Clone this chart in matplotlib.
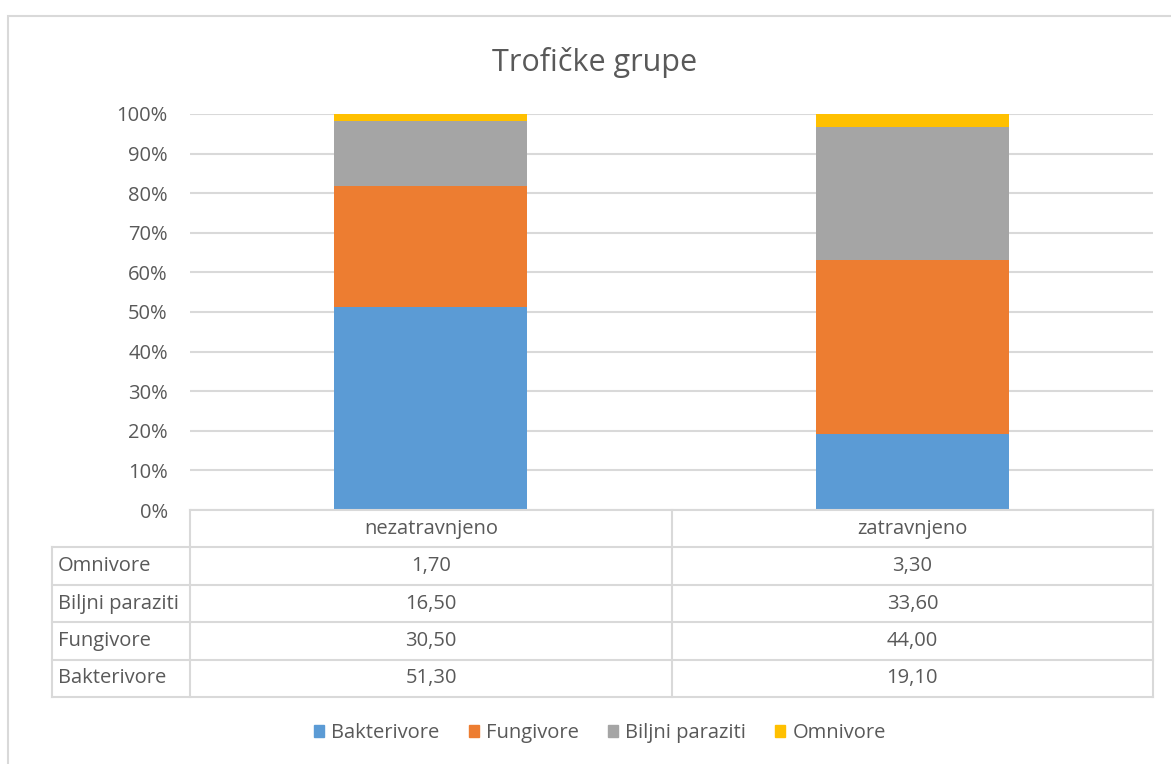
import matplotlib
matplotlib.use("Agg")
from matplotlib import pyplot as plt
from matplotlib.patches import Rectangle, Patch
from matplotlib.ticker import PercentFormatter
import numpy as np

plt.rcParams['font.family'] = ['Open Sans', 'DejaVu Sans']

categories = ['nezatravnjeno', 'zatravnjeno']
series_names = ['Bakterivore', 'Fungivore', 'Biljni paraziti', 'Omnivore']
bakterivore = [51.30, 19.10]
fungivore = [30.50, 44.00]
biljni_paraziti = [16.50, 33.60]
omnivore = [1.70, 3.30]
series_values = [bakterivore, fungivore, biljni_paraziti, omnivore]
colors = ['#5B9BD5', '#ED7D31', '#A5A5A5', '#FFC000']
table_rows = ['Omnivore', 'Biljni paraziti', 'Fungivore', 'Bakterivore']
title = 'Trofičke grupe'

W, H = 1171, 764
text_col = '#595959'
line_col = '#D9D9D9'
fs = 14.5

fig = plt.figure(figsize=(W / 100, H / 100), dpi=100)

# outer chart border
fig.patches.append(Rectangle((8 / W, -0.01), 1.0, 1 - 16 / H + 0.01,
                             transform=fig.transFigure, fill=False,
                             ec='#D9D9D9', lw=1.5))

def fig_box(x0, y0, x1, y1):
    return [x0 / W, 1 - y1 / H, (x1 - x0) / W, (y1 - y0) / H]

ax = fig.add_axes(fig_box(190, 114, 1153, 510))
x = np.arange(len(categories))
totals = np.sum(series_values, axis=0)
bottom = np.zeros(len(categories))
for name, vals, c in zip(series_names, series_values, colors):
    pct = np.array(vals) / totals * 100
    ax.bar(x, pct, 0.4, bottom=bottom, color=c, label=name, zorder=3)
    bottom += pct

ax.set_xlim(-0.5, 1.5)
ax.set_ylim(0, 100)
ax.set_yticks(np.arange(0, 101, 10))
ax.yaxis.set_major_formatter(PercentFormatter(decimals=0))
ax.grid(axis='y', color=line_col, lw=1.5, zorder=0)
ax.set_xticks([])
for s in ax.spines.values():
    s.set_visible(False)
ax.tick_params(axis='y', length=0, labelsize=fs, labelcolor=text_col, pad=16)

fig.text(595 / W, 1 - 62 / H, title, ha='center', va='center',
         fontsize=22, color=text_col)

# data table below the plot
tab = fig.add_axes(fig_box(52, 510, 1153, 697))
label_w = (190 - 52) / 480
tab.set_xlim(-0.5 - label_w, 1.5)
tab.set_ylim(len(table_rows) + 1, 0)
tab.axis('off')
lk = dict(color=line_col, lw=1.5, clip_on=False)
# header row
tab.plot([-0.5, 1.5], [0, 0], **lk)
for xv in [-0.5, 0.5, 1.5]:
    tab.plot([xv, xv], [0, len(table_rows) + 1], **lk)
tab.plot([-0.5 - label_w] * 2, [1, len(table_rows) + 1], **lk)
for r in range(1, len(table_rows) + 2):
    tab.plot([-0.5 - label_w, 1.5], [r, r], **lk)
for i, cat in enumerate(categories):
    tab.text(i, 0.5, cat, ha='center', va='center', fontsize=fs, color=text_col)
row_data = dict(zip(series_names, series_values))
for r, name in enumerate(table_rows):
    tab.text(-0.5 - label_w + 0.012, r + 1.5, name, ha='left', va='center',
             fontsize=fs, color=text_col)
    for i, v in enumerate(row_data[name]):
        tab.text(i, r + 1.5, f'{v:.2f}'.replace('.', ','), ha='center',
                 va='center', fontsize=fs, color=text_col)

handles = [Patch(color=c, label=n) for n, c in zip(series_names, colors)]
fig.legend(handles=handles, loc='center', bbox_to_anchor=(600 / W, 1 - 733 / H),
           ncol=4, frameon=False, fontsize=fs, labelcolor=text_col,
           handlelength=0.5, handleheight=0.5, handletextpad=0.35,
           columnspacing=1.45)

fig.savefig('out.png', dpi=100)
